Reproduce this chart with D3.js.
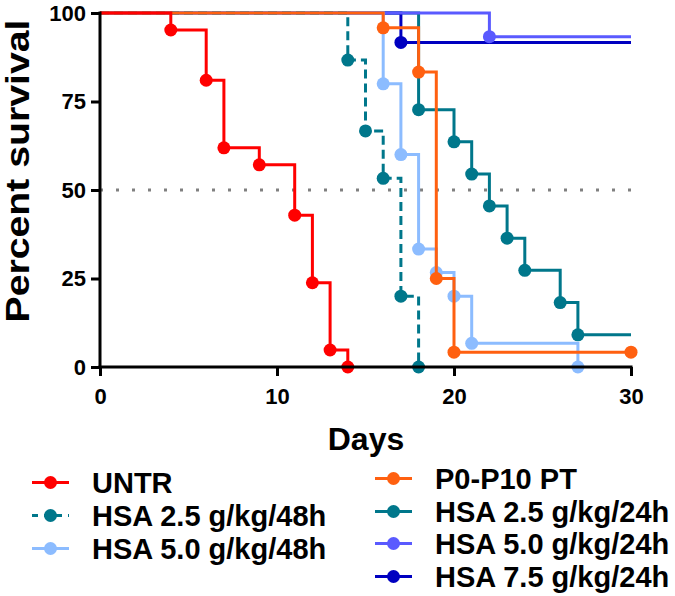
<!DOCTYPE html>
<html>
<head>
<meta charset="utf-8">
<script src="https://cdn.jsdelivr.net/npm/d3@7"></script>
<style>
  html, body { margin: 0; padding: 0; background: #fff; }
  svg { display: block; }
  text { font-family: "Liberation Sans", Arial, sans-serif; font-weight: bold; fill: #000; }
</style>
</head>
<body>
<svg id="chart" width="675" height="596"></svg>
<script>
// ---------- data ----------
const seriesNames = ["UNTR", "HSA 2.5 g/kg/48h", "HSA 5.0 g/kg/48h", "P0-P10 PT",
                     "HSA 2.5 g/kg/24h", "HSA 5.0 g/kg/24h", "HSA 7.5 g/kg/24h"];
const untrDays = [0, 4, 6, 7, 9, 11, 12, 13, 14];
const untrSurv = [100, 95.2, 81.0, 61.9, 57.1, 42.9, 23.8, 4.8, 0];
const hsa25h48Days = [0, 14, 15, 16, 17, 18];
const hsa25h48Surv = [100, 86.7, 66.7, 53.3, 20.0, 0];
const hsa50h48Days = [0, 16, 17, 18, 19, 20, 21, 27];
const hsa50h48Surv = [100, 80.0, 60.0, 33.3, 26.7, 20.0, 6.7, 0];
const ptDays = [0, 16, 18, 19, 20, 30];
const ptSurv = [100, 95.8, 83.3, 25.0, 4.2, 4.2];
const hsa25h24Days = [0, 18, 20, 21, 22, 23, 24, 26, 27, 30];
const hsa25h24Surv = [100, 72.7, 63.6, 54.5, 45.5, 36.4, 27.3, 18.2, 9.1, 9.1];
const hsa50h24Days = [0, 22, 30];
const hsa50h24Surv = [100, 93.3, 93.3];
const hsa75h24Days = [0, 17, 30];
const hsa75h24Surv = [100, 91.7, 91.7];
const endCensorMarked = [false, false, false, true, false, false, false];
const xTicks = [0, 10, 20, 30];
const yTicks = [0, 25, 50, 75, 100];
const medianLine = 50;

// ---------- styles ----------
const colors = ["#ff0000", "#00778b", "#8cbcff", "#ff6010", "#00778b", "#5a5aff", "#0000c0"];
const dashed = [false, true, false, false, false, false, false];
const drawOrder = [4, 6, 5, 2, 1, 3, 0];

const allDays = [untrDays, hsa25h48Days, hsa50h48Days, ptDays, hsa25h24Days, hsa50h24Days, hsa75h24Days];
const allSurv = [untrSurv, hsa25h48Surv, hsa50h48Surv, ptSurv, hsa25h24Surv, hsa50h24Surv, hsa75h24Surv];

const svg = d3.select("#chart");
const x = d3.scaleLinear().domain([0, 30]).range([100, 631]);
const y = d3.scaleLinear().domain([0, 100]).range([367, 13]);

// median dotted line
svg.append("line")
  .attr("x1", x(0)).attr("x2", x(30))
  .attr("y1", y(medianLine)).attr("y2", y(medianLine))
  .attr("stroke", "#808080").attr("stroke-width", 3)
  .attr("stroke-dasharray", "3,13");

// series
const line = d3.line().x(d => x(d[0])).y(d => y(d[1])).curve(d3.curveStepAfter);
drawOrder.forEach(i => {
  const pts = allDays[i].map((d, k) => [d, allSurv[i][k]]);
  svg.append("path")
    .datum(pts)
    .attr("d", line)
    .attr("fill", "none")
    .attr("stroke", colors[i])
    .attr("stroke-width", 3)
    .attr("stroke-dasharray", dashed[i] ? "9,5" : null);
  const marks = pts.filter((p, k) => k > 0 && (p[1] !== pts[k - 1][1] || (k === pts.length - 1 && endCensorMarked[i])));
  svg.append("g").selectAll("circle").data(marks).join("circle")
    .attr("cx", d => x(d[0])).attr("cy", d => y(d[1]))
    .attr("r", 6.5).attr("fill", colors[i]);
});

// axes
const yAxis = svg.append("g").attr("transform", `translate(${x(0)},0)`)
  .call(d3.axisLeft(y).tickValues(yTicks).tickSize(9).tickSizeOuter(0).tickPadding(5));
const xAxis = svg.append("g").attr("transform", `translate(0,${y(0)})`)
  .call(d3.axisBottom(x).tickValues(xTicks).tickSize(9).tickSizeOuter(0).tickPadding(12));
[yAxis, xAxis].forEach(a => {
  a.selectAll("path, line").attr("stroke", "#000").attr("stroke-width", 3);
  a.selectAll("text").style("font-size", "22px").style("font-weight", "bold")
    .style("font-family", '"Liberation Sans", Arial, sans-serif').attr("fill", "#000");
});
yAxis.select(".domain").attr("d", `M0,${y(100) - 1.5}V${y(0) + 1.5}`);
xAxis.select(".domain").attr("d", `M${x(0) - 1.5},0H${x(30) + 1.5}`);

// titles
svg.append("text")
  .attr("transform", "translate(29,171) rotate(-90)")
  .attr("text-anchor", "middle")
  .attr("textLength", 303).attr("lengthAdjust", "spacingAndGlyphs")
  .style("font-size", "33px")
  .text("Percent survival");
svg.append("text")
  .attr("x", 366).attr("y", 450)
  .attr("text-anchor", "middle")
  .style("font-size", "32px")
  .text("Days");

// legend
const legendPos = [
  [32, 493], [32, 526], [32, 559],
  [375, 489], [375, 522], [375, 554], [375, 587]
];
seriesNames.forEach((name, i) => {
  const [lx, by] = legendPos[i];
  const ly = by - 10.5;
  const g = svg.append("g");
  g.append("line").attr("x1", lx).attr("x2", lx + 37).attr("y1", ly).attr("y2", ly)
    .attr("stroke", colors[i]).attr("stroke-width", 3)
    .attr("stroke-dasharray", dashed[i] ? "6,6" : null);
  g.append("circle").attr("cx", lx + 18.5).attr("cy", ly).attr("r", 6.5).attr("fill", colors[i]);
  g.append("text").attr("x", lx + 60).attr("y", by).style("font-size", "29px").text(name);
});
</script>
</body>
</html>
